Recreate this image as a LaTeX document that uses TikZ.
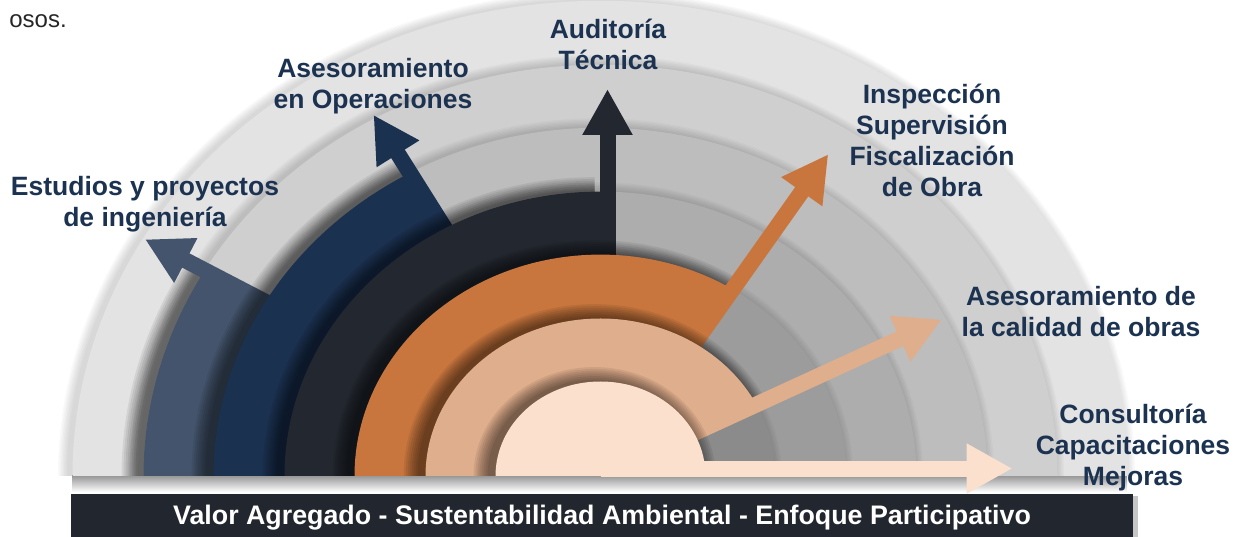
\documentclass[tikz,border=0pt]{standalone}
\usepackage{fontspec}
\setmainfont{Liberation Sans}
\usetikzlibrary{arrows.meta,shadows}

\definecolor{slateC}{HTML}{44546C}
\definecolor{navyC}{HTML}{1B3150}
\definecolor{coalC}{HTML}{23272F}
\definecolor{rustC}{HTML}{C8763E}
\definecolor{tanC}{HTML}{DFAE8C}
\definecolor{peachC}{HTML}{FBE0CD}
\definecolor{inkC}{HTML}{1C3251}
\definecolor{bannerC}{HTML}{22262E}
\definecolor{grayA}{HTML}{E3E3E3}
\definecolor{grayB}{HTML}{CFCFCF}
\definecolor{grayC}{HTML}{BDBDBD}
\definecolor{grayD}{HTML}{ADADAD}
\definecolor{grayE}{HTML}{9C9C9C}
\definecolor{grayF}{HTML}{8B8B8B}

% radius, end angle, colour
\newcommand{\servring}[3]{%
  \foreach \s in {1,...,8}
    \fill[black, opacity=0.07] (0,0) -- (-#1-2*\s-6,0) arc[start angle=180, end angle=#2, radius=#1+2*\s] -- cycle;
  \fill[#3] (0,0) -- (-#1,0) arc[start angle=180, end angle=#2, radius=#1] -- cycle;
}

\tikzset{
  pointer/.style={line width=16pt, -{Triangle[width=47pt,length=46pt]}},
  service/.style={font=\bfseries\fontsize{26.5}{31}\selectfont, text=inkC, align=center},
}

\begin{document}
\begin{tikzpicture}[x=1pt,y=1pt]
  \useasboundingbox (0,0) rectangle (1233,537);
  \node (frag) [font=\fontsize{24}{28}\selectfont, text=black!85] at (38,516) {osos.};

  % shadow under the base line
  \shade[top color=black!40, bottom color=white] (72,45) rectangle (1127,61);

  \begin{scope}[shift={(600.5,61)}, yscale=0.9]
    \coordinate (c) at (0,0);
    % grey bands
    \foreach \r/\g in {528/grayA,457/grayB,387/grayC,316/grayD,246/grayE,175/grayF} {
      \foreach \s in {1,...,7}
        \fill[black, opacity=0.022] (-\r-1.5*\s-4,0) arc[start angle=180, end angle=0, radius=\r+1.5*\s] -- cycle;
      \fill[\g] (-\r,0) arc[start angle=180, end angle=0, radius=\r] -- cycle;
    }

    \coordinate (estS) at (150:377);
    \coordinate (tipEst) at (150:526);
    \coordinate (opeS) at (119.5:306);
    \coordinate (tipOpe) at (119.5:461);
    \coordinate (audS) at (7,236);
    \coordinate (tipAud) at (7,430);
    \coordinate (inspS) at (57.5:165);
    \coordinate (tipInsp) at (57.5:424);
    \coordinate (calS) at (27:95);
    \coordinate (tipCal) at (27:383);
    \coordinate (conS) at (0,8.3);
    \coordinate (tipCon) at (412,8.3);

    \servring{457}{150}{slateC}
    \draw[pointer, slateC] (estS) -- (tipEst);
    \servring{387}{119.5}{navyC}
    \draw[pointer, navyC] (opeS) -- (tipOpe);
    \servring{316}{90}{coalC}
    \draw[pointer, coalC] (audS) -- (tipAud);
    \servring{246}{57.5}{rustC}
    \draw[pointer, rustC] (inspS) -- (tipInsp);
    \servring{175}{27}{tanC}
    \draw[pointer, tanC] (calS) -- (tipCal);
    \servring{105}{0}{peachC}
    \draw[pointer, peachC] (conS) -- (tipCon);
  \end{scope}

  \node (est) [service] at (145,333) {Estudios y proyectos\\de ingeniería};
  \node (ope) [service] at (373,451) {Asesoramiento\\en Operaciones};
  \node (aud) [service] at (608,493) {Auditoría\\Técnica};
  \node (insp) [service] at (932,397) {Inspección\\Supervisión\\Fiscalización\\de Obra};
  \node (cal) [service] at (1081,225) {Asesoramiento de\\la calidad de obras};
  \node (cons) [service] at (1133,89) {Consultoría\\Capacitaciones\\Mejoras};

  \node (banner) [fill=bannerC, minimum width=1062pt, minimum height=47pt, inner sep=0pt,
    text=white, font=\bfseries\fontsize{26.8}{30}\selectfont,
    drop shadow={shadow xshift=5pt, shadow yshift=-2pt, opacity=0.45}] at (602,19)
    {Valor Agregado - Sustentabilidad Ambiental - Enfoque Participativo};
\end{tikzpicture}
\end{document}
